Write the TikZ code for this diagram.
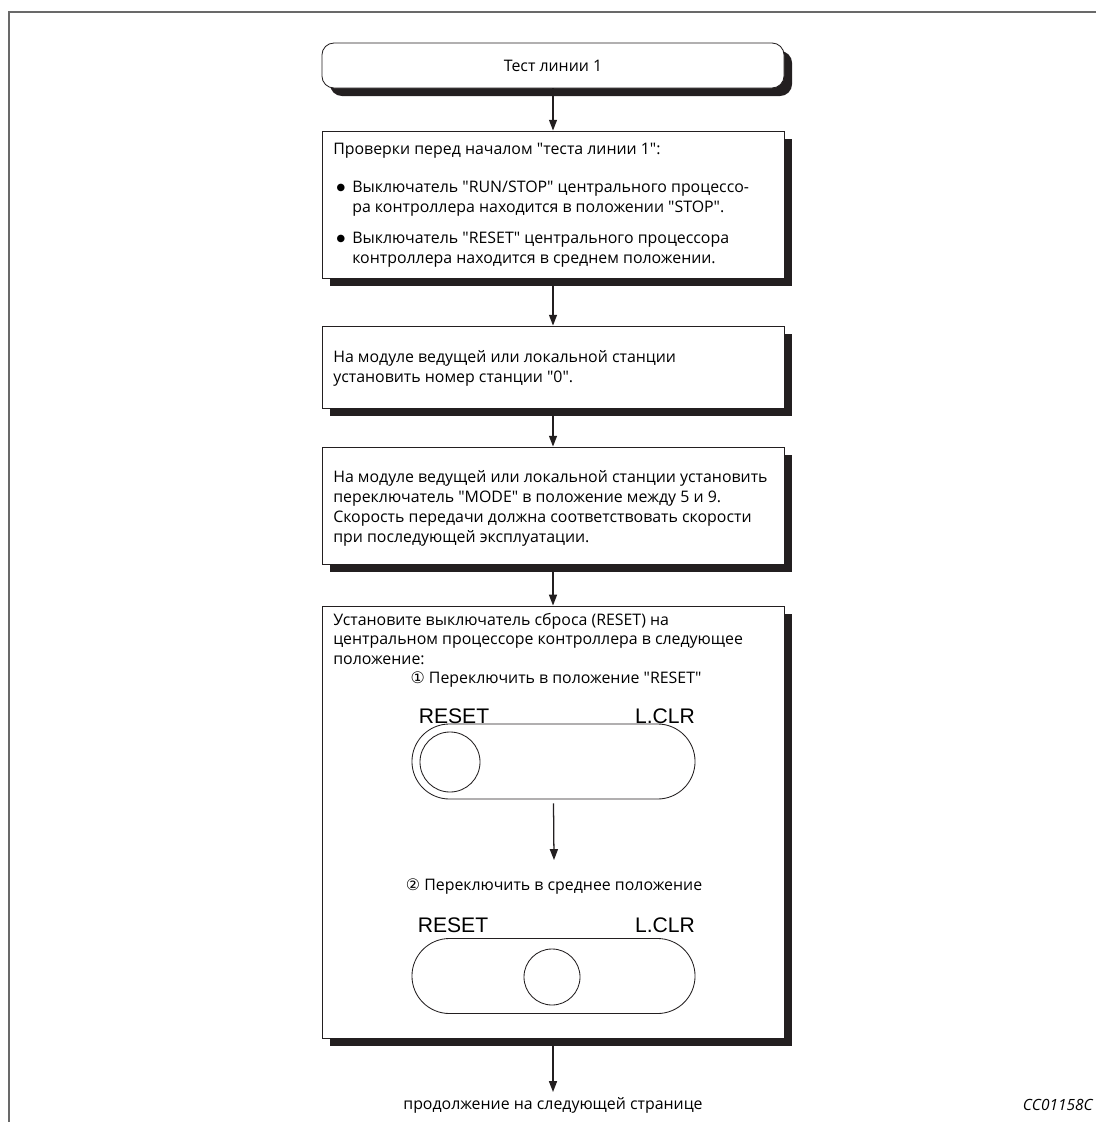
\documentclass[tikz,border=0pt]{standalone}
\usepackage{fontspec}
\setmainfont{Open Sans}[Ligatures=TeXOff]
\newfontfamily\labelfont{Liberation Sans}
\newfontfamily\circfont{DejaVu Sans}
\usepackage{tikz}
\usetikzlibrary{arrows.meta, positioning, shadows, shapes.misc}
\definecolor{mydark}{RGB}{35,31,32}
\definecolor{framegray}{RGB}{105,105,105}
\tikzset{
  block/.style={rectangle, draw=mydark, fill=white,
    minimum width=11.55cm, inner sep=0pt, line width=0.6pt,
    drop shadow={shadow xshift=0.2cm, shadow yshift=-0.2cm,
      fill=mydark, opacity=1}},
  startblock/.style={block, rounded corners=0.3cm},
  txt/.style={anchor=west, align=left, inner sep=0pt,
    font=\fontsize{11.3}{14.2}\selectfont},
  ctxt/.style={inner sep=0pt, font=\fontsize{11.3}{14.2}\selectfont},
  bulletdot/.style={inner sep=0pt, font=\circfont\fontsize{7}{7}\selectfont},
  swlabel/.style={inner sep=0pt, font=\labelfont\fontsize{15}{15}\selectfont},
  switchbody/.style={rounded rectangle, draw=mydark, line width=0.6pt,
    minimum width=7.075cm, minimum height=1.875cm, inner sep=0pt},
  knob/.style={circle, draw=mydark, line width=0.6pt, inner sep=0pt},
  arrow/.style={-{Triangle[length=0.27cm, width=0.2cm]}, line width=0.9pt,
    color=mydark}
}

\begin{document}
\begin{tikzpicture}[x=0.025cm, y=-0.025cm]
  \useasboundingbox (0,0) rectangle (1096,1122);
  \draw[framegray, line width=1.1pt] (1096,12) -- (9,12) -- (9,1122);

  % boxes
  \node[startblock, minimum height=1.125cm] (start) at (553,65.5) {};
  \node[block, minimum height=3.675cm] (check) at (553,204.5) {};
  \node[block, minimum height=2.05cm] (station) at (553,367) {};
  \node[block, minimum height=2.925cm] (mode) at (553,505.5) {};
  \node[block, minimum height=10.8cm] (reset) at (553,822) {};

  % texts
  \node[ctxt] (starttxt) at (553,66) {Тест линии 1};
  \node[txt] (checkhdr) at (333,151) {Проверки перед началом "теста линии 1":};
  \node[bulletdot] (dot1) at (341,188) {●};
  \node[txt] (item1) at (352,199)
    {Выключатель "RUN/STOP" центрального процессо-\\ра контроллера находится в положении "STOP".};
  \node[bulletdot] (dot2) at (341,239) {●};
  \node[txt] (item2) at (352,250)
    {Выключатель "RESET" центрального процессора\\контроллера находится в среднем положении.};
  \node[txt] (stationtxt) at (333,368)
    {На модуле ведущей или локальной станции\\установить номер станции "0".};
  \node[txt] (modetxt) at (333,508.5)
    {На модуле ведущей или локальной станции установить\\переключатель "MODE" в положение между 5 и 9.\\Скорость передачи должна соответствовать скорости\\при последующей эксплуатации.};
  \node[txt] (resettxt) at (333,639)
    {Установите выключатель сброса (RESET) на\\центральном процессоре контроллера в следующее\\положение:};
  \node[ctxt] (step1) at (556,680) {{\circfont ①} Переключить в положение "RESET"};

  % switch, first position
  \node[swlabel] (rst1) at (454,716) {RESET};
  \node[swlabel] (clr1) at (665,716) {L.CLR};
  \node[switchbody] (sw1) at (553.5,761.5) {};
  \node[knob, minimum size=1.5cm] (knob1) at (450,762) {};
  \coordinate (tip1) at (554,860);

  \node[ctxt] (step2) at (554,887) {{\circfont ②} Переключить в среднее положение};

  % switch, middle position
  \node[swlabel] (rst2) at (453,925) {RESET};
  \node[swlabel] (clr2) at (665,925) {L.CLR};
  \node[switchbody] (sw2) at (553.5,976) {};
  \node[knob, minimum size=1.4cm] (knob2) at (552,977) {};

  \node[ctxt, inner sep=0.12cm] (cont) at (553,1105) {продолжение на следующей странице};
  \node[anchor=east, inner sep=0pt, font=\itshape\fontsize{11}{13}\selectfont] (code) at (1093,1105) {CC01158C};

  % connectors
  \draw[arrow] (start) -- (check);
  \draw[arrow] (check) -- (station);
  \draw[arrow] (station) -- (mode);
  \draw[arrow] (mode) -- (reset);
  \draw[arrow] ([yshift=-0.1cm]sw1.south) -- (tip1);
  \draw[arrow] (reset) -- (cont);
\end{tikzpicture}
\end{document}
